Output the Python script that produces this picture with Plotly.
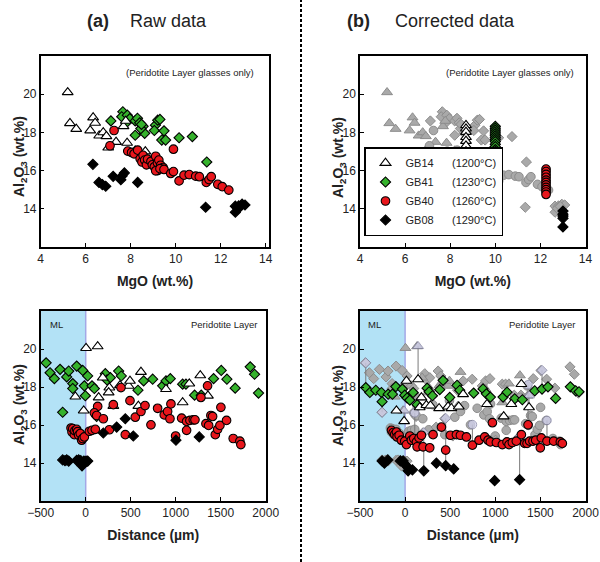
import plotly.graph_objects as go

# ---------------- DATA ----------------
# Upper panels: MgO (wt.%) vs Al2O3 (wt.%) -- raw glasses
MGO_GB14 = [5.2, 5.3, 5.58, 6.2, 6.33, 6.42, 6.6, 6.78, 6.92, 7.0, 7.35, 7.68, 7.78, 7.84, 8.2, 8.65]
AL_GB14 = [20.1, 18.48, 18.18, 18.1, 18.78, 18.5, 17.83, 18.0, 17.8, 17.2, 17.5, 18.32, 18.6, 17.45, 17.05, 17.0]

MGO_GB41 = [7.12, 7.65, 7.6, 7.85, 7.96, 7.8, 8.2, 8.3, 8.4, 8.55, 8.62, 8.2, 8.45, 8.48, 9.1, 9.2, 9.3,
            9.05, 9.48, 9.38, 9.55, 10.15, 10.74, 11.38]
AL_GB41 = [18.6, 19.08, 18.82, 18.9, 18.72, 18.5, 18.6, 18.74, 18.5, 18.32, 17.95, 17.85, 18.2, 18.42, 18.38,
           18.64, 18.68, 18.1, 18.08, 17.6, 17.6, 17.72, 17.78, 16.45]

MGO_GB40 = [7.26, 7.08, 7.87, 8.04, 8.15, 8.31, 8.42, 8.5, 8.55, 8.62, 8.7, 8.75, 8.9, 8.96, 9.05, 9.11, 9.19,
            9.25, 9.33, 9.44, 9.2, 9.11, 9.3, 9.48, 9.9, 9.78, 9.9, 10.15, 10.37, 10.6, 10.89, 11.05, 11.36,
            11.48, 11.58, 11.87, 12.07, 12.36]
AL_GB40 = [18.1, 17.3, 17.02, 16.95, 16.88, 17.07, 16.62, 16.45, 16.8, 16.55, 16.3, 16.6, 16.48, 16.3, 16.2,
           16.75, 16.4, 16.55, 16.28, 16.16, 16.0, 15.99, 16.1, 16.06, 17.12, 15.85, 15.95, 15.46, 15.76,
           15.79, 15.71, 15.68, 15.38, 15.53, 15.68, 15.28, 15.16, 14.98]

MGO_GB08 = [6.32, 6.59, 6.74, 6.89, 7.22, 7.56, 7.62, 7.72, 8.31, 11.33, 12.65, 12.65, 12.8, 12.95, 13.08,
            12.75, 12.88]
AL_GB08 = [16.33, 15.38, 15.27, 15.18, 15.7, 15.52, 15.72, 15.88, 15.38, 14.08, 13.82, 14.14, 14.15, 14.24,
           14.2, 14.02, 14.12]

# Upper panels: corrected glasses
MGO_C_GB14 = [8.7, 8.7, 8.7, 8.7, 8.7, 8.7, 8.7, 8.7, 8.7, 8.7]
AL_C_GB14 = [18.38, 18.2, 18.02, 17.75, 17.55, 17.3, 17.0, 16.85, 16.7, 16.4]
MGO_C_GB41 = [10.0] * 13
AL_C_GB41 = [18.32, 18.22, 18.12, 18.02, 17.92, 17.82, 17.72, 17.62, 17.52, 17.38, 17.25, 17.1, 17.0]
MGO_C_GB40 = [12.25] * 11
AL_C_GB40 = [16.08, 15.95, 15.8, 15.65, 15.5, 15.38, 15.25, 15.12, 15.0, 14.88, 14.75]
MGO_C_GB08 = [13.0] * 5
AL_C_GB08 = [13.88, 13.72, 13.62, 13.5, 13.05]

# Lower panels: Distance (um) vs Al2O3 -- raw
D_GB14 = [4, 133, -115, -22, 144, 189, 263, 255, 381, 477, 492, 585, 614, 307, 892, 1077, 1151, 1273, 1358]
A_GB14 = [20.05, 20.14, 17.49, 16.76, 17.45, 18.49, 17.97, 17.71, 18.09, 18.06, 18.32, 17.0, 18.79, 17.0,
          17.89, 17.19, 18.18, 18.61, 17.54]

D_GB41 = [-440, -396, -348, -285, -211, -189, -144, -144, -100, -33, 22, -15, -4, -256, 70, 96, 122, 218,
          237, 274, 366, 396, 581, 644, 744, 855, 892, 940, 1077, 1114, 1210, 1284, 1421, 1506, 1569, 1661,
          1828, 1876, 1920]
A_GB41 = [19.27, 18.75, 18.44, 18.93, 18.53, 18.84, 18.18, 17.92, 19.1, 18.87, 18.58, 18.06, 17.54, 16.67,
          18.06, 17.92, 16.45, 18.7, 18.37, 18.49, 18.84, 18.58, 17.83, 18.32, 18.41, 18.06, 18.32, 18.44,
          18.15, 18.15, 17.57, 17.57, 18.44, 18.87, 18.41, 17.94, 19.06, 18.67, 17.68]

D_GB40 = [-163, -152, -144, -126, -120, -100, -90, -78, -60, -45, -33, -15, 41, 70, 107, 133, 96, 122, 196,
          263, 307, 392, 440, 492, 551, 614, 659, 725, 799, 873, 910, 936, 947, 999, 1066, 1121, 1158, 1195,
          1214, 1121, 1280, 1354, 1336, 1366, 1391, 1410, 1440, 1466, 1491, 1502, 1565, 1639, 1713, 1724]
A_GB40 = [15.84, 15.63, 15.81, 15.49, 15.7, 15.77, 15.65, 15.46, 15.55, 15.2, 15.29, 15.37, 15.67, 15.72,
          15.77, 16.98, 16.64, 16.5, 16.33, 15.75, 17.07, 17.97, 15.49, 17.28, 16.41, 16.71, 17.02, 16.01,
          16.88, 16.53, 16.71, 16.33, 17.11, 15.42, 16.36, 16.19, 16.24, 16.27, 16.27, 15.72, 17.45, 18.06,
          16.07, 15.98, 16.5, 16.45, 15.49, 15.77, 15.98, 16.93, 16.24, 15.29, 15.15, 14.97]

D_GB08 = [-256, -230, -211, -189, -100, -78, -55, -41, -20, 4, 22, 196, 344, 440, 529, 1003, 1262]
A_GB08 = [14.16, 14.12, 14.16, 14.1, 14.14, 14.16, 14.12, 13.85, 14.1, 14.1, 14.1, 15.58, 15.89, 16.33,
          15.42, 15.2, 15.37]

# Lower panels: corrected
D_C_GB14 = [15, 144, -96, -11, 162, 181, 236, 281, 377, 476, 513, 595, 643, 908, 1093, 1178, 1289, 1374]
A_C_GB14 = [18.32, 18.4, 16.76, 16.2, 16.93, 17.45, 17.05, 17.02, 16.88, 16.97, 16.88, 16.97, 17.62, 17.1,
            16.45, 17.1, 18.15, 16.93]

D_C_GB41 = [-436, -391, -325, -262, -255, -188, -140, -103, -30, -4, 22, 52, 89, 133, 244, 266, 303, 384,
            421, 495, 576, 606, 760, 864, 901, 945, 1086, 1130, 1215, 1300, 1437, 1518, 1584, 1669, 1832,
            1891, 1928]
A_C_GB41 = [17.97, 17.71, 17.83, 17.71, 17.23, 17.62, 17.62, 18.02, 17.89, 17.57, 17.42, 17.31, 17.71,
            17.07, 17.94, 17.75, 17.54, 17.86, 18.35, 17.45, 18.09, 17.83, 17.68, 17.9, 17.64, 17.47, 17.47,
            17.73, 17.38, 17.33, 17.8, 17.89, 18.01, 17.4, 18.01, 17.8, 17.75]

D_C_GB40 = [-151, -133, -115, -96, -89, -66, -41, -4, 15, 52, 70, 96, 126, 155, 181, 133, 199, 273, 310, 403,
            450, 502, 569, 613, 680, 746, 820, 883, 920, 945, 968, 1012, 1078, 1130, 1152, 1189, 1233, 1289,
            1326, 1352, 1363, 1381, 1418, 1448, 1499, 1510, 1573, 1647, 1721, 1743]
A_C_GB40 = [15.72, 15.6, 15.5, 15.63, 15.37, 15.46, 15.2, 15.15, 14.97, 15.42, 15.2, 15.29, 15.11, 15.32,
            15.46, 14.85, 14.85, 14.8, 15.49, 15.89, 14.68, 15.46, 15.49, 15.46, 15.37, 14.94, 15.2, 15.37,
            15.2, 15.11, 16.12, 15.08, 14.97, 15.11, 14.97, 15.08, 15.15, 15.49, 15.03, 15.03, 16.01, 15.15,
            15.15, 15.2, 14.8, 15.32, 15.15, 15.15, 15.11, 15.03]

D_C_GB08 = [-255, -229, -192, -52, -22, -4, 33, 33, 81, 207, 347, 450, 539, 993, 1270]
A_C_GB08 = [14.11, 13.99, 14.16, 14.11, 14.11, 13.93, 13.76, 13.59, 13.64, 13.59, 13.99, 13.86, 13.69,
            13.07, 13.12]

# Strongly corrected analyses (raw value -> corrected value)
OUT_D = [-436, -255, 144, -11, 107, 207, 450, 746, 1270, 1363, 1374, 1518, 1573]
OUT_RAW = [19.27, 16.67, 20.15, 16.76, 16.64, 15.6, 16.35, 16.02, 15.4, 18.12, 17.55, 18.88, 16.24]
OUT_CORR = [17.97, 17.23, 18.4, 16.2, 15.11, 13.59, 13.86, 14.94, 13.12, 16.01, 16.93, 17.89, 15.15]
OUT_SYM = ['diamond', 'diamond', 'triangle-up', 'triangle-up', 'circle', 'diamond', 'diamond', 'circle',
           'diamond', 'circle', 'triangle-up', 'diamond', 'circle']

SAMPLES = ['GB14', 'GB41', 'GB40', 'GB08']
TEMPS = ['1200°C', '1230°C', '1260°C', '1290°C']

MGO_TICKS = [4, 6, 8, 10, 12, 14]
DIST_TICKS = [-500, 0, 500, 1000, 1500, 2000]
AL_TICKS = [14, 16, 18, 20]

# ---------------- STYLE ----------------
FONT = 'Arial, Liberation Sans, sans-serif'
STY = {
    'GB14': dict(symbol='triangle-up', color='white', size=9.5),
    'GB41': dict(symbol='diamond', color='#35B22C', size=7.8),
    'GB40': dict(symbol='circle', color='#E8161C', size=8.6),
    'GB08': dict(symbol='diamond', color='black', size=7.8),
}
GREY_FILL, GREY_LINE = '#A9A9A9', '#8C8C8C'
LAV_FILL, LAV_LINE = '#D6D6F3', '#7E7E9E'

fig = go.Figure()


def add(x, y, s, xa, ya, grey=False, legend=False, rank=0):
    st = STY[s]
    if grey:
        mk = dict(symbol=st['symbol'], size=st['size'], color=GREY_FILL, line=dict(color=GREY_LINE, width=1))
    else:
        mk = dict(symbol=st['symbol'], size=st['size'], color=st['color'], line=dict(color='black', width=1.1))
    i = SAMPLES.index(s)
    fig.add_trace(go.Scatter(
        x=x, y=y, mode='markers', marker=mk, xaxis=xa, yaxis=ya,
        name=s + '\u00a0' * 6 + '(' + TEMPS[i] + ')', showlegend=legend, legendrank=rank, hoverinfo='skip'))


raw_upper = {'GB14': (MGO_GB14, AL_GB14), 'GB41': (MGO_GB41, AL_GB41),
             'GB40': (MGO_GB40, AL_GB40), 'GB08': (MGO_GB08, AL_GB08)}
cor_upper = {'GB14': (MGO_C_GB14, AL_C_GB14), 'GB41': (MGO_C_GB41, AL_C_GB41),
             'GB40': (MGO_C_GB40, AL_C_GB40), 'GB08': (MGO_C_GB08, AL_C_GB08)}
raw_lower = {'GB14': (D_GB14, A_GB14), 'GB41': (D_GB41, A_GB41),
             'GB40': (D_GB40, A_GB40), 'GB08': (D_GB08, A_GB08)}
cor_lower = {'GB14': (D_C_GB14, A_C_GB14), 'GB41': (D_C_GB41, A_C_GB41),
             'GB40': (D_C_GB40, A_C_GB40), 'GB08': (D_C_GB08, A_C_GB08)}

ORDER = ['GB41', 'GB14', 'GB40', 'GB08']

# (a) upper: raw
for s in ORDER:
    add(*raw_upper[s], s, 'x', 'y')
# (b) upper: grey raw + corrected
for s in ORDER:
    add(*raw_upper[s], s, 'x2', 'y2', grey=True)
for s in ORDER:
    add(*cor_upper[s], s, 'x2', 'y2', legend=True, rank=SAMPLES.index(s) + 1)
# (a) lower: raw
for s in ORDER:
    add(*raw_lower[s], s, 'x3', 'y3')
# (b) lower: grey raw, connectors, lavender raw outliers, corrected
for s in ORDER:
    add(*raw_lower[s], s, 'x4', 'y4', grey=True)
lx, ly = [], []
for d, r, c in zip(OUT_D, OUT_RAW, OUT_CORR):
    lx += [d, d, None]
    ly += [r, c, None]
fig.add_trace(go.Scatter(x=lx, y=ly, mode='lines', line=dict(color='#7A7A7A', width=1),
                         xaxis='x4', yaxis='y4', showlegend=False, hoverinfo='skip'))
fig.add_trace(go.Scatter(
    x=OUT_D, y=OUT_RAW, mode='markers', xaxis='x4', yaxis='y4', showlegend=False, hoverinfo='skip',
    marker=dict(symbol=OUT_SYM, size=[9.5 if m == 'triangle-up' else (8.6 if m == 'circle' else 7.8) for m in OUT_SYM],
                color=LAV_FILL, line=dict(color=LAV_LINE, width=1))))
for s in ORDER:
    add(*cor_lower[s], s, 'x4', 'y4')

# ---------------- LAYOUT ----------------
W, H = 600, 562
XL_UP = [40.7 / W, 269.3 / W]
XL_LO = [40.7 / W, 265.7 / W]
XR = [360 / W, 585.5 / W]
YU = [1 - 247 / H, 1 - 56 / H]
YD = [1 - 501 / H, 1 - 311 / H]

tickfont = dict(family=FONT, size=12, color='#222')
titlefont = dict(family=FONT, size=14, color='#222')


def xax(dom, rng, vals, title, anchor):
    return dict(domain=dom, range=rng, tickvals=vals, ticks='inside',
                ticklen=4, tickwidth=1, tickcolor='black', showline=True, linecolor='black', linewidth=1.5,
                mirror=True, showgrid=False, zeroline=False, tickfont=tickfont, anchor=anchor, automargin=False,
                ticklabeloverflow='allow',
                title=dict(text='<b>' + title + '</b>', font=titlefont, standoff=11))


def yax(dom, anchor):
    return dict(domain=dom, range=[12, 22], tickvals=AL_TICKS, ticks='inside', ticklen=4,
                tickwidth=1, tickcolor='black', showline=True, linecolor='black', linewidth=1.5,
                mirror=True, showgrid=False, zeroline=False, tickfont=tickfont, anchor=anchor, automargin=False)


fig.update_layout(
    width=W, height=H, margin=dict(l=0, r=0, t=0, b=0, autoexpand=False),
    paper_bgcolor='white', plot_bgcolor='white', font=dict(family=FONT, color='#222'),
    xaxis=xax(XL_UP, [4, 14.16], MGO_TICKS, 'MgO (wt.%)', 'y'),
    yaxis=yax(YU, 'x'),
    xaxis2=xax(XR, [4, 14], MGO_TICKS, 'MgO (wt.%)', 'y2'),
    yaxis2=yax(YU, 'x2'),
    xaxis3=xax(XL_LO, [-500, 2000], DIST_TICKS, 'Distance (µm)', 'y3'),
    yaxis3=yax(YD, 'x3'),
    xaxis4=xax(XR, [-500, 2000], DIST_TICKS, 'Distance (µm)', 'y4'),
    yaxis4=yax(YD, 'x4'),
    legend=dict(x=364 / W, y=1 - 236 / H, xanchor='left', yanchor='bottom', bgcolor='white',
                bordercolor='black', borderwidth=1.5, font=dict(family=FONT, size=11, color='#222'),
                tracegroupgap=0, itemclick=False),
    showlegend=True,
)

shapes = []
for xa in ['x3', 'x4']:
    shapes.append(dict(type='rect', xref=xa, yref=xa.replace('x', 'y') + ' domain', x0=-500, x1=0, y0=0, y1=1,
                       fillcolor='#B3E2F6', line=dict(width=0), layer='below'))
    shapes.append(dict(type='line', xref=xa, yref=xa.replace('x', 'y') + ' domain', x0=0, x1=0, y0=0, y1=1,
                       line=dict(color='#A4A8E6', width=1.5), layer='below'))
shapes.append(dict(type='line', xref='paper', yref='paper', x0=301 / W, x1=301 / W, y0=0, y1=1,
                   line=dict(color='black', width=2, dash='3px,2px')))
fig.update_layout(shapes=shapes)

ann = []


def txt(t, x, y, xanchor, size, bold=False, angle=0):
    ann.append(dict(text=('<b>' + t + '</b>') if bold else t, x=x / W, y=1 - y / H, xref='paper', yref='paper',
                    xanchor=xanchor, yanchor='middle', showarrow=False, textangle=angle,
                    font=dict(family=FONT, size=size, color='#222')))


txt('(a)', 97.7, 21, 'center', 18, True)
txt('Raw data', 128, 21, 'left', 18)
txt('(b)', 358, 21, 'center', 18, True)
txt('Corrected data', 393, 21, 'left', 18)
txt('(Peridotite Layer glasses only)', 255.5, 73, 'right', 9.5)
txt('(Peridotite Layer glasses only)', 576, 73, 'right', 9.5)
txt('Peridotite Layer', 259.5, 324, 'right', 9.5)
txt('Peridotite Layer', 578, 324, 'right', 9.5)
txt('ML', 47.5, 324, 'left', 9.5)
txt('ML', 366, 324, 'left', 9.5)
YT = 'Al<sub>2</sub>O<sub>3</sub> (wt.%)'
txt(YT, 20, 157, 'center', 14, True, -90)
txt(YT, 339, 157, 'center', 14, True, -90)
txt(YT, 20, 405, 'center', 14, True, -90)
txt(YT, 339, 405, 'center', 14, True, -90)
fig.update_layout(annotations=ann)

# the page's default body margin would offset the 600x562 figure inside the window
fig.write_html('out.html', config={'displayModeBar': False},
               post_script="document.body.style.margin='0';document.body.style.overflow='hidden';")
